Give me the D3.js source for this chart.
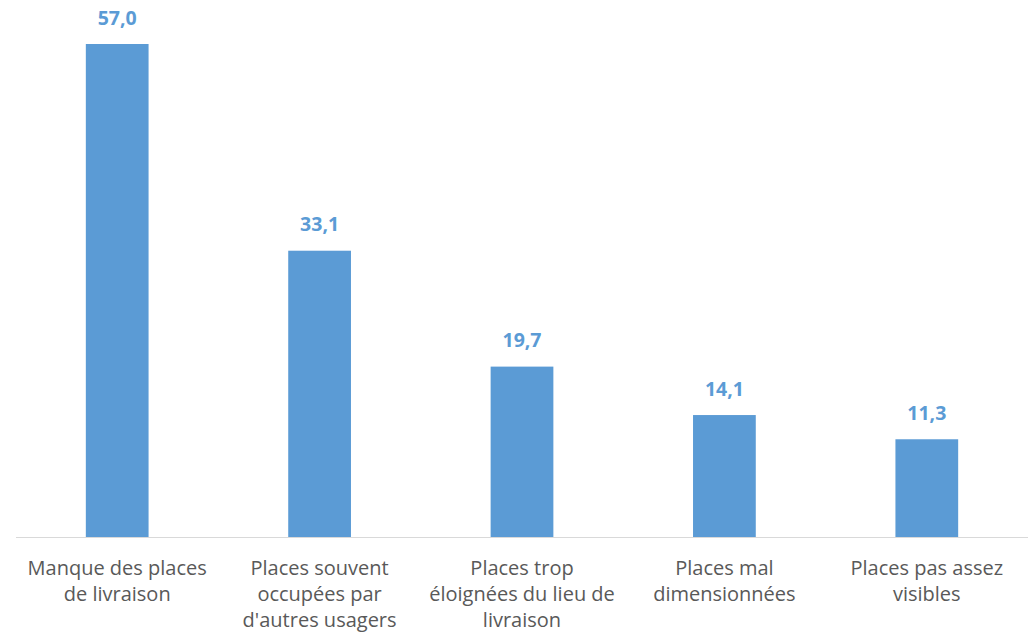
<!DOCTYPE html>
<html><head><meta charset="utf-8">
<script src="https://cdn.jsdelivr.net/npm/d3@7"></script>
<style>body{margin:0;background:#fff}svg{display:block}</style>
</head><body>
<svg id="c" width="1036" height="639"></svg>
<script>
const categories = ["Manque des places de livraison","Places souvent occupées par d'autres usagers","Places trop éloignées du lieu de livraison","Places mal dimensionnées","Places pas assez visibles"];
const categoryLines = [["Manque des places","de livraison"],["Places souvent","occupées par","d'autres usagers"],["Places trop","éloignées du lieu de","livraison"],["Places mal","dimensionnées"],["Places pas assez","visibles"]];
const values = [57.0,33.1,19.7,14.1,11.3];

const svg = d3.select("#c");
const x = d3.scaleBand().domain(categories).range([16,1028]).paddingInner(0.69).paddingOuter(0.345);
const y = d3.scaleLinear().domain([0,57]).range([537,44]);

svg.selectAll("rect.bar").data(values).join("rect")
  .attr("class","bar")
  .attr("x",(d,i)=>x(categories[i]))
  .attr("width",x.bandwidth())
  .attr("y",d=>y(d))
  .attr("height",d=>y(0)-y(d))
  .attr("fill","#5B9BD5");

svg.append("line").attr("x1",16).attr("x2",1028).attr("y1",537.5).attr("y2",537.5)
  .attr("stroke","#D9D9D9").attr("stroke-width",1);

const fmt = d => d.toFixed(1).replace(".",",");
svg.selectAll("text.val").data(values).join("text")
  .attr("class","val")
  .attr("x",(d,i)=>x(categories[i])+x.bandwidth()/2)
  .attr("y",d=>y(d)-19.5)
  .attr("text-anchor","middle")
  .attr("font-family","'Open Sans', sans-serif")
  .attr("font-weight","bold")
  .attr("font-size","19.5px")
  .attr("fill","#5B9BD5")
  .text(fmt);

const g = svg.selectAll("text.cat").data(categoryLines).join("text")
  .attr("class","cat")
  .attr("text-anchor","middle")
  .attr("font-family","'Open Sans', sans-serif")
  .attr("font-size","20px")
  .attr("fill","#595959");
g.each(function(lines,i){
  const t = d3.select(this);
  lines.forEach((l,j)=>{
    t.append("tspan").attr("x",x(categories[i])+x.bandwidth()/2).attr("y",575+j*26).text(l);
  });
});
</script>
</body></html>
